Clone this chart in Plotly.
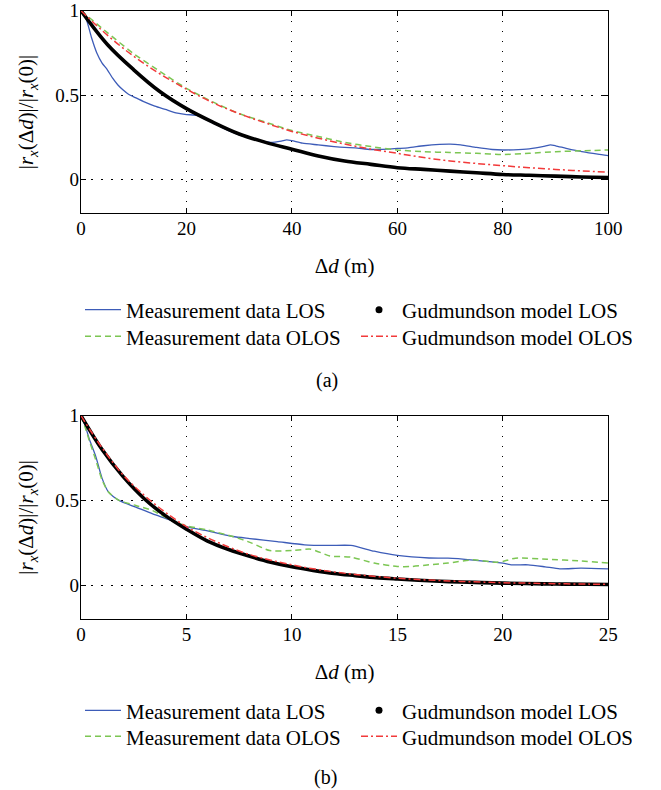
import plotly.graph_objects as go

# ---------------- data (a) ----------------
xa_los = [0, 1, 2, 3, 4, 5, 6, 7, 8, 9, 10, 12, 14, 16, 18, 20, 22, 24, 26, 28, 30, 32, 34, 36, 38, 39, 40,
          42, 45, 48, 50, 52, 55, 58, 60, 62, 65, 68, 70, 72, 75, 78, 80, 82, 85, 88, 89, 90, 92, 95, 98, 100]
ya_los = [1.0, 0.95, 0.84, 0.75, 0.69, 0.65, 0.60, 0.56, 0.53, 0.505, 0.49, 0.46, 0.435, 0.415, 0.395, 0.385,
          0.38, 0.35, 0.32, 0.29, 0.265, 0.245, 0.23, 0.22, 0.228, 0.235, 0.23, 0.215, 0.205, 0.195, 0.19, 0.188,
          0.178, 0.18, 0.184, 0.188, 0.2, 0.208, 0.21, 0.205, 0.19, 0.178, 0.175, 0.176, 0.182, 0.198, 0.205,
          0.2, 0.185, 0.165, 0.15, 0.142]

xa_grid = [0, 5, 10, 15, 20, 25, 30, 35, 40, 45, 50, 55, 60, 65, 70, 75, 80, 85, 90, 95, 100]
ya_olos = [1.0, 0.87, 0.745, 0.64, 0.54, 0.46, 0.39, 0.34, 0.29, 0.255, 0.22, 0.195, 0.175, 0.165, 0.16,
           0.155, 0.148, 0.155, 0.165, 0.17, 0.175]
ya_gud_los = [1.0, 0.80, 0.65, 0.52, 0.42, 0.34, 0.27, 0.22, 0.18, 0.14, 0.11, 0.09, 0.07, 0.06, 0.05,
              0.04, 0.03, 0.025, 0.02, 0.015, 0.012]
ya_gud_olos = [1.0, 0.855, 0.73, 0.625, 0.535, 0.455, 0.39, 0.335, 0.285, 0.245, 0.21, 0.18, 0.155, 0.13,
               0.11, 0.095, 0.082, 0.07, 0.06, 0.051, 0.044]

# ---------------- data (b) ----------------
xb_los = [0, 0.2, 0.4, 0.7, 1.0, 1.3, 1.8, 2.6, 3.4, 4.2, 5, 6, 7.2, 8, 9.3, 10.6, 11.8, 12.8, 13.9, 15,
          16.5, 17.4, 18.6, 20, 20.4, 21.2, 22, 22.7, 23.7, 25]
yb_los = [1.0, 0.94, 0.86, 0.76, 0.63, 0.55, 0.50, 0.46, 0.42, 0.385, 0.345, 0.32, 0.287, 0.275, 0.257,
          0.238, 0.234, 0.234, 0.2, 0.175, 0.16, 0.159, 0.148, 0.13, 0.12, 0.12, 0.108, 0.096, 0.1, 0.096]
xb_olos = [0, 0.2, 0.4, 0.7, 1.0, 1.3, 1.8, 2.6, 3.4, 4.3, 5, 6, 7.2, 8.1, 8.95, 10, 10.9, 11.8, 12.8,
           13.9, 15, 15.7, 16.5, 17.4, 18.6, 19.7, 20, 20.6, 22.1, 23.7, 25]
yb_olos = [1.0, 0.93, 0.85, 0.74, 0.62, 0.55, 0.50, 0.47, 0.44, 0.38, 0.35, 0.325, 0.287, 0.248, 0.204,
           0.204, 0.212, 0.172, 0.165, 0.13, 0.11, 0.11, 0.12, 0.13, 0.149, 0.135, 0.14, 0.159, 0.153,
           0.143, 0.13]
xb_grid = list(range(0, 26))
yb_gud_los = [1.0, 0.80, 0.64, 0.51, 0.41, 0.33, 0.26, 0.21, 0.17, 0.135, 0.108, 0.087, 0.069, 0.056,
              0.044, 0.036, 0.029, 0.023, 0.018, 0.015, 0.012, 0.0094, 0.0075, 0.006, 0.0048, 0.0039]
yb_gud_olos = [1.0, 0.81, 0.65, 0.53, 0.43, 0.345, 0.28, 0.225, 0.18, 0.147, 0.12, 0.096, 0.078, 0.063,
               0.051, 0.041, 0.033, 0.027, 0.022, 0.018, 0.014, 0.012, 0.0093, 0.0075, 0.006, 0.005]

names = ["Measurement data LOS", "Gudmundson model LOS", "Measurement data OLOS", "Gudmundson model OLOS"]
xticks_a = [0, 20, 40, 60, 80, 100]
xticks_b = [0, 5, 10, 15, 20, 25]
yticks = [0, 0.5, 1]
yticklabels = ["0", "0.5", "1"]

BLUE = "#3d5cb8"
GREEN = "#7cc653"
RED = "#f23a3a"
BLACK = "#000000"
FONT = "Liberation Serif, Times New Roman, DejaVu Serif, serif"
W, H = 661, 790

fig = go.Figure()


def add_panel(xl, yl, xo, yo, xg, yg_los, yg_olos, xa, ya, leg_row1, leg_row2):
    fig.add_trace(go.Scatter(x=xl, y=yl, mode="lines", name=names[0],
                             line=dict(color=BLUE, width=1.3, shape="spline", smoothing=0.6),
                             xaxis=xa, yaxis=ya, legend=leg_row1, legendrank=1))
    fig.add_trace(go.Scatter(x=xo, y=yo, mode="lines", name=names[2],
                             line=dict(color=GREEN, width=1.5, dash="6px,4px", shape="spline", smoothing=0.6),
                             xaxis=xa, yaxis=ya, legend=leg_row2, legendrank=3))
    fig.add_trace(go.Scatter(x=xg, y=yg_los, mode="lines", name=names[1],
                             line=dict(color=BLACK, width=3.6, shape="spline"),
                             xaxis=xa, yaxis=ya, showlegend=False, legend=leg_row1))
    fig.add_trace(go.Scatter(x=[None], y=[None], mode="markers", name=names[1],
                             marker=dict(color=BLACK, size=7),
                             xaxis=xa, yaxis=ya, legend=leg_row1, legendrank=2))
    fig.add_trace(go.Scatter(x=xg, y=yg_olos, mode="lines", name=names[3],
                             line=dict(color=RED, width=1.5, dash="7px,3px,2px,3px", shape="spline"),
                             xaxis=xa, yaxis=ya, legend=leg_row2, legendrank=4))


add_panel(xa_los, ya_los, xa_grid, ya_olos, xa_grid, ya_gud_los, ya_gud_olos, "x", "y", "legend", "legend2")
add_panel(xb_los, yb_los, xb_olos, yb_olos, xb_grid, yb_gud_los, yb_gud_olos, "x2", "y2", "legend3", "legend4")

xdom = [81 / W, 608.3 / W]
ydom_a = [(H - 213.3) / H, (H - 10.7) / H]
ydom_b = [(H - 619) / H, (H - 415.7) / H]

axis_common = dict(showline=True, linecolor="black", linewidth=1.2, mirror="ticks", ticks="inside",
                   ticklen=5, tickcolor="black", showgrid=True, gridcolor="black", gridwidth=1,
                   griddash="1.5px,8.5px", zeroline=False, automargin=False,
                   tickfont=dict(family=FONT, size=19, color="black"))

title_x = dict(text="Δ<i>d</i> (m)", font=dict(family=FONT, size=21, color="black"), standoff=20)
title_y = dict(text="|<i>r</i><sub><i>x</i></sub>(Δ<i>d</i>)|/|<i>r</i><sub><i>x</i></sub>(0)|",
               font=dict(family=FONT, size=21, color="black"), standoff=15)


def legend_row(yc):
    return dict(x=80 / W, xanchor="left", y=1 - yc / H, yanchor="middle", orientation="h",
                entrywidth=225, font=dict(family=FONT, size=21, color="black"),
                bgcolor="rgba(0,0,0,0)", itemwidth=36, tracegroupgap=0)


fig.update_layout(
    template="none",
    width=W, height=H, margin=dict(l=0, r=0, t=0, b=0, autoexpand=False),
    paper_bgcolor="white", plot_bgcolor="white",
    xaxis=dict(domain=xdom, range=[0, 100], tickvals=xticks_a, anchor="y", title=title_x,
               ticklabelstandoff=-2, **axis_common),
    yaxis=dict(domain=ydom_a, range=[-0.2, 1], tickvals=yticks, ticktext=yticklabels, anchor="x",
               title=title_y, ticklabelstandoff=-3, **axis_common),
    xaxis2=dict(domain=xdom, range=[0, 25], tickvals=xticks_b, anchor="y2", title=title_x,
                ticklabelstandoff=-2, **axis_common),
    yaxis2=dict(domain=ydom_b, range=[-0.2, 1], tickvals=yticks, ticktext=yticklabels, anchor="x2",
                title=title_y, ticklabelstandoff=-3, **axis_common),
    legend=legend_row(310),
    legend2=legend_row(336.7),
    legend3=legend_row(710.7),
    legend4=legend_row(736.7),
    annotations=[
        dict(text="(a)", x=327 / W, y=1 - 380 / H, xref="paper", yref="paper", showarrow=False,
             xanchor="center", yanchor="middle", font=dict(family=FONT, size=20, color="black")),
        dict(text="(b)", x=325 / W, y=1 - 777 / H, xref="paper", yref="paper", showarrow=False,
             xanchor="center", yanchor="middle", font=dict(family=FONT, size=20, color="black")),
    ],
)

fig.write_html("out.html", config={"displayModeBar": False},
               post_script="document.body.style.margin='0px';")
